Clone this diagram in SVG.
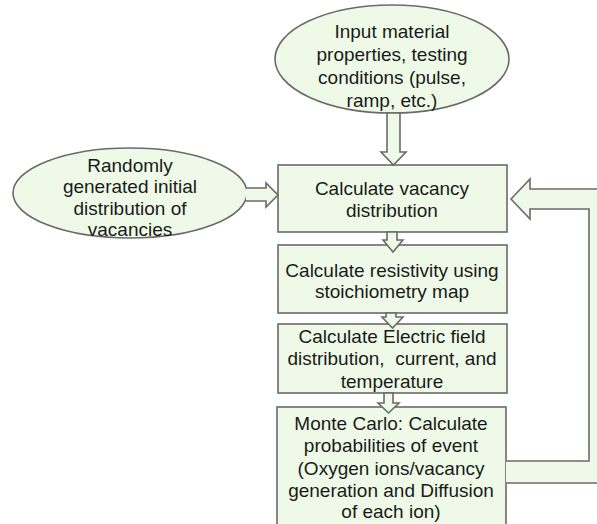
<svg xmlns="http://www.w3.org/2000/svg" width="597" height="524" viewBox="0 0 597 524">
<style>
.n{fill:#eefae7;stroke:#6a6a6a;stroke-width:1.6}
.c{fill:#eefae7;stroke:#6a6a6a;stroke-width:1.6;stroke-linejoin:miter}
text{font-family:"Liberation Sans",Arial,sans-serif;font-size:19px;fill:#1a1a1a;text-anchor:middle;white-space:pre}
</style>
<rect width="597" height="524" fill="#ffffff"/>
<g id="input">
<ellipse class="n" cx="392" cy="59" rx="117" ry="54"/>
<text x="392" y="38">Input material</text>
<text x="392" y="61">properties, testing</text>
<text x="392" y="84">conditions (pulse,</text>
<text x="392" y="107">ramp, etc.)</text>
</g>
<g id="random">
<ellipse class="n" cx="130" cy="193" rx="117" ry="45"/>
<text x="130" y="172">Randomly</text>
<text x="130" y="193">generated initial</text>
<text x="130" y="215">distribution of</text>
<text x="130" y="236">vacancies</text>
</g>
<g id="vacancy">
<rect class="n" x="278" y="165" width="229" height="67"/>
<text x="392" y="195">Calculate vacancy</text>
<text x="392" y="217">distribution</text>
</g>
<g id="resistivity">
<rect class="n" x="278" y="245" width="229" height="68"/>
<text x="392" y="277">Calculate resistivity using</text>
<text x="392" y="298">stoichiometry map</text>
</g>
<g id="field">
<rect class="n" x="278" y="324" width="229" height="69"/>
<text x="392" y="343">Calculate Electric field</text>
<text x="392" y="365">distribution,  current, and</text>
<text x="392" y="388">temperature</text>
</g>
<g id="montecarlo">
<rect class="n" x="277" y="407" width="229" height="130"/>
<text x="391" y="430">Monte Carlo: Calculate</text>
<text x="391" y="452">probabilities of event</text>
<text x="391" y="475">(Oxygen ions/vacancy</text>
<text x="391" y="497">generation and Diffusion</text>
<text x="391" y="518">of each ion)</text>
</g>
<g id="connectors">
<path class="c" d="M387,113 H400 V152 H406 L393.5,165 L381,152 H387 Z"/>
<path class="c" d="M246,188 H266 V183 L278,195 L266,207 V201 H246"/>
<path class="c" d="M387,232 H397 V240 H403 L393,252 L383,240 H387 Z"/>
<path class="c" d="M386,313 H396 V317 H403 L392.5,328 L382,317 H386 Z"/>
<path class="c" d="M384,393 H393 V403 H399 L388.5,413 L378,403 H384 Z"/>
<path class="c" d="M506,461 H589 V209 H530 V219 L511,199 L530,179 V189 H612 V483 H506"/>
</g>
</svg>
